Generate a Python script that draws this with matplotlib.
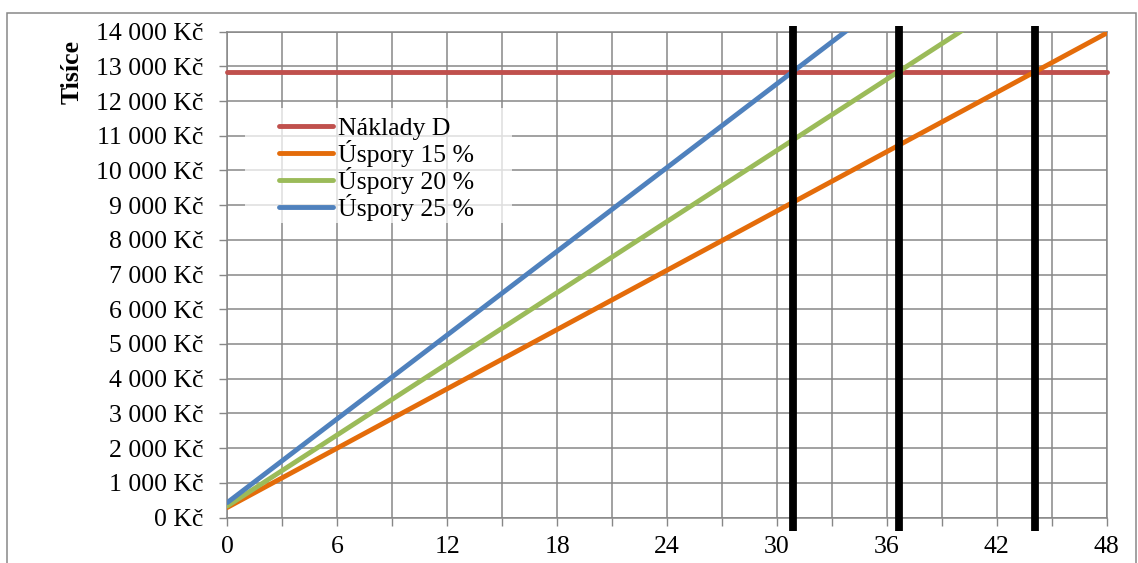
import numpy as np
import matplotlib
matplotlib.use("Agg")
import matplotlib.pyplot as plt
from matplotlib.patches import Rectangle

# --- data -------------------------------------------------------------
months = [0, 48]
naklady_d = [12850, 12850]
uspory_15 = [290, 13960]
uspory_20 = [330, 16730]
uspory_25 = [430, 19740]

series_labels = ["Náklady D", "Úspory 15 %", "Úspory 20 %", "Úspory 25 %"]
series_colors = ["#C0504D", "#E46C0A", "#9BBB59", "#4F81BD"]

x_ticks = list(range(0, 49, 3))
x_tick_labels = ["0", "", "6", "", "12", "", "18", "", "24", "", "30", "",
                 "36", "", "42", "", "48"]
y_ticks = list(range(0, 14001, 1000))
y_tick_labels = ["0 Kč", "1 000 Kč", "2 000 Kč", "3 000 Kč", "4 000 Kč",
                 "5 000 Kč", "6 000 Kč", "7 000 Kč", "8 000 Kč", "9 000 Kč",
                 "10 000 Kč", "11 000 Kč", "12 000 Kč", "13 000 Kč",
                 "14 000 Kč"]

# --- style ------------------------------------------------------------
plt.rcParams["font.family"] = ["Liberation Serif", "DejaVu Serif"]
FS = 18.5
GRID = "#878787"

W, H = 1138, 563
fig = plt.figure(figsize=(W / 100, H / 100), dpi=100)
fig.patch.set_facecolor("white")

left, right, top, bottom = 227.3, 1106.7, 31.7, 517.5
ax = fig.add_axes([left / W, 1 - bottom / H, (right - left) / W, (bottom - top) / H])

# outer chart frame
fig.add_artist(Rectangle((7 / W, -0.05), (1136 - 7) / W, (H - 13.3) / H + 0.05,
                         transform=fig.transFigure, fill=False,
                         edgecolor=GRID, linewidth=1.1))

ax.set_xlim(0, 48)
ax.set_ylim(0, 14000)
ax.set_xticks(x_ticks)
ax.set_xticklabels(x_tick_labels, fontsize=FS)
ax.set_yticks(y_ticks)
ax.set_yticklabels(y_tick_labels, fontsize=FS)
ax.tick_params(axis="both", colors=GRID, labelcolor="black", length=5.5, width=1.0)
ax.tick_params(axis="y", pad=11.5)
ax.tick_params(axis="x", pad=7.5)
ax.set_axisbelow(True)
ax.grid(True, color=GRID, linewidth=1.1)
for sp in ax.spines.values():
    sp.set_color(GRID)
    sp.set_linewidth(1.1)

# series lines
all_series = [naklady_d, uspory_15, uspory_20, uspory_25]
handles = []
for vals, lab, col in zip(all_series, series_labels, series_colors):
    (h,) = ax.plot(months, vals, color=col, linewidth=3.5, label=lab,
                   solid_capstyle="round", zorder=3)
    handles.append(h)
# let the cost line's round cap show past the plot edge
handles[0].set_clip_on(False)

# payback months: where each savings line reaches the cost level
mx = np.array(months, dtype=float)
for vals in all_series[1:]:
    diff = np.array(vals, dtype=float) - np.array(naklady_d, dtype=float)
    x_cross = mx[0] + (0 - diff[0]) * (mx[1] - mx[0]) / (diff[1] - diff[0])
    ax.plot([x_cross, x_cross], [-0.028, 1.012], color="black", linewidth=5.6,
            transform=ax.get_xaxis_transform(), clip_on=False,
            solid_capstyle="butt", zorder=5)

# legend with a translucent white panel behind it
ax.add_patch(Rectangle((0.020, 0.6066), 0.3036, 0.2368, transform=ax.transAxes,
                       facecolor="white", edgecolor="none", alpha=0.72, zorder=2))
leg = ax.legend(handles=handles, loc="upper left", bbox_to_anchor=(0.0588, 0.8235),
                frameon=False, fontsize=FS, borderpad=0, borderaxespad=0,
                handlelength=2.1, handletextpad=0.2, labelspacing=0.0)
leg.set_zorder(6)

fig.text(72 / W, 1 - 72.5 / H, "Tisíce", rotation=90, ha="center", va="center",
         fontsize=FS, fontweight="bold")

fig.savefig("out.png", dpi=100)
